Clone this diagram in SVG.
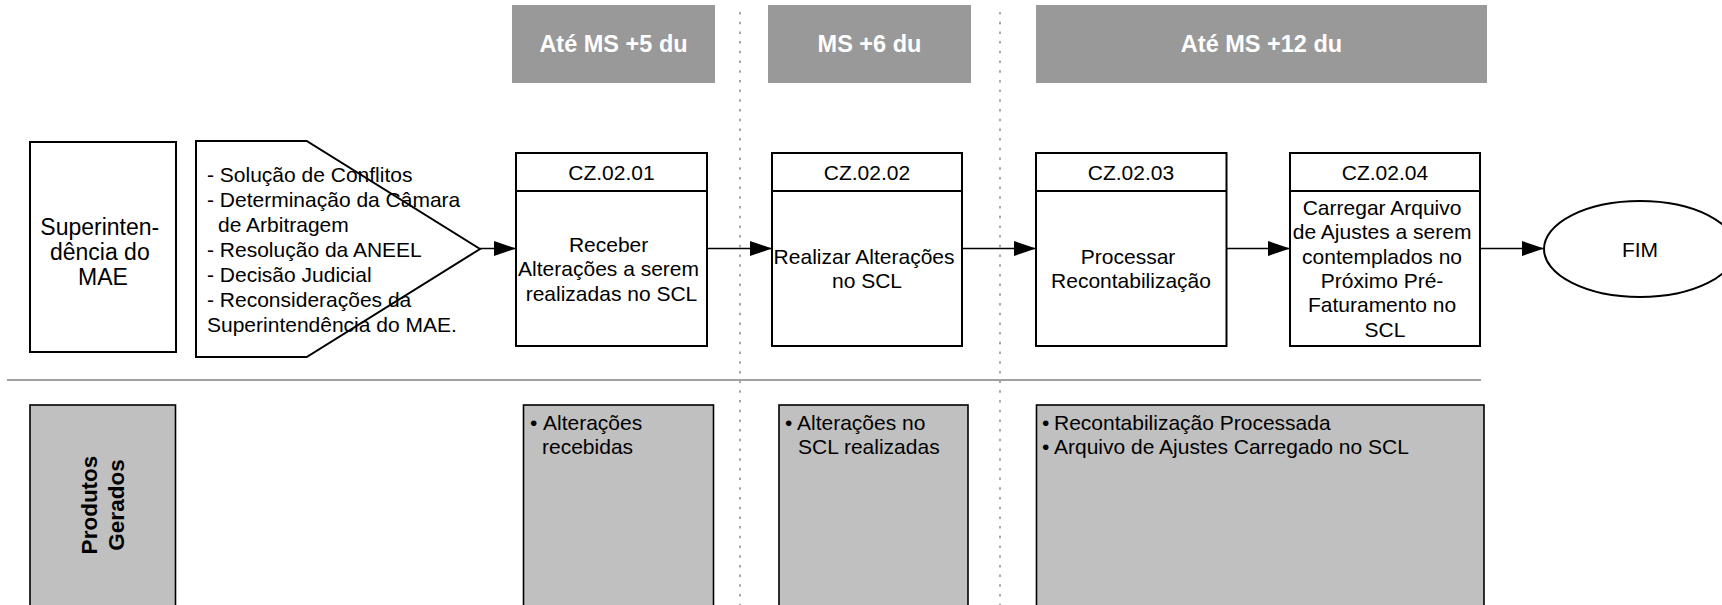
<svg xmlns="http://www.w3.org/2000/svg" width="1722" height="605" viewBox="0 0 1722 605">
<style>
  text { font-family: "Liberation Sans", Arial, sans-serif; fill: #000; }
  .hdr { fill: #999999; }
  .hdrt { font-size: 23.5px; font-weight: bold; fill: #ffffff; text-anchor: middle; }
  .box { fill: #ffffff; stroke: #000; stroke-width: 2; }
  .t21 { font-size: 21px; }
  .mid { text-anchor: middle; }
  .prod { fill: #c0c0c0; stroke: #000; stroke-width: 1.6; }
  .dot { stroke: #8c8c8c; stroke-width: 1.5; stroke-dasharray: 2.5 7.2; fill: none; }
  .conn { stroke: #000; stroke-width: 1.6; fill: none; marker-end: url(#ah); }
</style>
<defs>
  <marker id="ah" markerUnits="userSpaceOnUse" markerWidth="22" markerHeight="16" refX="22" refY="7.5" orient="auto">
    <path d="M0,0 L22,7.5 L0,15 z" fill="#000"/>
  </marker>
</defs>
<rect width="1722" height="605" fill="#ffffff"/>

<g id="guides">
  <line class="dot" x1="740" y1="12" x2="740" y2="605"/>
  <line class="dot" x1="1000" y1="12" x2="1000" y2="605"/>
  <line x1="7" y1="380" x2="1481" y2="380" stroke="#a0a0a0" stroke-width="2"/>
</g>

<g id="header1">
  <rect class="hdr" x="512" y="5" width="203" height="78"/>
  <text class="hdrt" x="613.5" y="52">Até MS +5 du</text>
</g>
<g id="header2">
  <rect class="hdr" x="768" y="5" width="203" height="78"/>
  <text class="hdrt" x="869.5" y="52">MS +6 du</text>
</g>
<g id="header3">
  <rect class="hdr" x="1036" y="5" width="451" height="78"/>
  <text class="hdrt" x="1261.5" y="52">Até MS +12 du</text>
</g>

<g id="superintendencia">
  <rect class="box" x="30" y="142" width="146" height="210"/>
  <text class="mid" style="font-size:23px">
    <tspan x="103" y="235">Superinten-</tspan>
    <tspan x="103" y="260">dência do</tspan>
    <tspan x="103" y="285">MAE</tspan>
  </text>
</g>

<g id="entradas">
  <path class="box" d="M196,141 L306.7,141 L480,249 L306.7,357 L196,357 Z" fill="none" style="fill:none"/>
  <text class="t21">
    <tspan x="207" y="181.7">- Solução de Conflitos</tspan>
    <tspan x="207" y="206.7">- Determinação da Câmara</tspan>
    <tspan x="218" y="231.7">de Arbitragem</tspan>
    <tspan x="207" y="256.7">- Resolução da ANEEL</tspan>
    <tspan x="207" y="281.7">- Decisão Judicial</tspan>
    <tspan x="207" y="306.7">- Reconsiderações da</tspan>
    <tspan x="207" y="331.7">Superintendência do MAE.</tspan>
  </text>
</g>

<g id="cz0201">
  <rect class="box" x="516" y="153" width="191" height="193"/>
  <line x1="516" y1="191" x2="707" y2="191" stroke="#000" stroke-width="2"/>
  <text class="t21 mid" x="611.5" y="180">CZ.02.01</text>
  <text class="t21 mid">
    <tspan x="611.5" y="251.5">Receber</tspan>
    <tspan x="611.5" y="276">Alterações a serem</tspan>
    <tspan x="611.5" y="300.5">realizadas no SCL</tspan>
  </text>
</g>

<g id="cz0202">
  <rect class="box" x="772" y="153" width="190" height="193"/>
  <line x1="772" y1="191" x2="962" y2="191" stroke="#000" stroke-width="2"/>
  <text class="t21 mid" x="867" y="180">CZ.02.02</text>
  <text class="t21 mid">
    <tspan x="867" y="263.5">Realizar Alterações</tspan>
    <tspan x="867" y="288">no SCL</tspan>
  </text>
</g>

<g id="cz0203">
  <rect class="box" x="1036" y="153" width="190.5" height="193"/>
  <line x1="1036" y1="191" x2="1226.5" y2="191" stroke="#000" stroke-width="2"/>
  <text class="t21 mid" x="1131" y="180">CZ.02.03</text>
  <text class="t21 mid">
    <tspan x="1131" y="263.5">Processar</tspan>
    <tspan x="1131" y="288">Recontabilização</tspan>
  </text>
</g>

<g id="cz0204">
  <rect class="box" x="1290" y="153" width="190" height="193"/>
  <line x1="1290" y1="191" x2="1480" y2="191" stroke="#000" stroke-width="2"/>
  <text class="t21 mid" x="1385" y="180">CZ.02.04</text>
  <text class="t21 mid">
    <tspan x="1385" y="215">Carregar Arquivo</tspan>
    <tspan x="1385" y="239.3">de Ajustes a serem</tspan>
    <tspan x="1385" y="263.6">contemplados no</tspan>
    <tspan x="1385" y="287.9">Próximo Pré-</tspan>
    <tspan x="1385" y="312.2">Faturamento no</tspan>
    <tspan x="1385" y="336.5">SCL</tspan>
  </text>
</g>

<g id="fim">
  <ellipse cx="1640" cy="249" rx="96" ry="48" fill="#ffffff" stroke="#000" stroke-width="2"/>
  <text class="t21 mid" x="1640" y="256.5">FIM</text>
</g>

<g id="produtos">
  <rect class="prod" x="30" y="405" width="145.5" height="205"/>
  <text transform="translate(96.7,505) rotate(-90)" text-anchor="middle" style="font-size:22.5px;font-weight:bold">Produtos</text>
  <text transform="translate(124,505) rotate(-90)" text-anchor="middle" style="font-size:22.5px;font-weight:bold">Gerados</text>
</g>

<g id="prod1">
  <rect class="prod" x="523.5" y="405" width="190" height="205"/>
  <text class="t21">
    <tspan x="530" y="430">•</tspan><tspan x="543" y="430">Alterações</tspan>
    <tspan x="542" y="453.5">recebidas</tspan>
  </text>
</g>

<g id="prod2">
  <rect class="prod" x="779" y="405" width="189" height="205"/>
  <text class="t21">
    <tspan x="785" y="430">•</tspan><tspan x="797" y="430">Alterações no</tspan>
    <tspan x="798" y="453.5">SCL realizadas</tspan>
  </text>
</g>

<g id="prod3">
  <rect class="prod" x="1036.5" y="405" width="447.5" height="205"/>
  <text class="t21">
    <tspan x="1042" y="430">•</tspan><tspan x="1054" y="430">Recontabilização Processada</tspan>
    <tspan x="1042" y="453.5">•</tspan><tspan x="1054" y="453.5">Arquivo de Ajustes Carregado no SCL</tspan>
  </text>
</g>

<g id="connectors">
  <line class="conn" x1="480" y1="248.5" x2="516" y2="248.5"/>
  <line class="conn" x1="707" y1="248.5" x2="772" y2="248.5"/>
  <line class="conn" x1="962" y1="248.5" x2="1036" y2="248.5"/>
  <line class="conn" x1="1226.5" y1="248.5" x2="1290" y2="248.5"/>
  <line class="conn" x1="1480" y1="248.5" x2="1544" y2="248.5"/>
</g>
</svg>
